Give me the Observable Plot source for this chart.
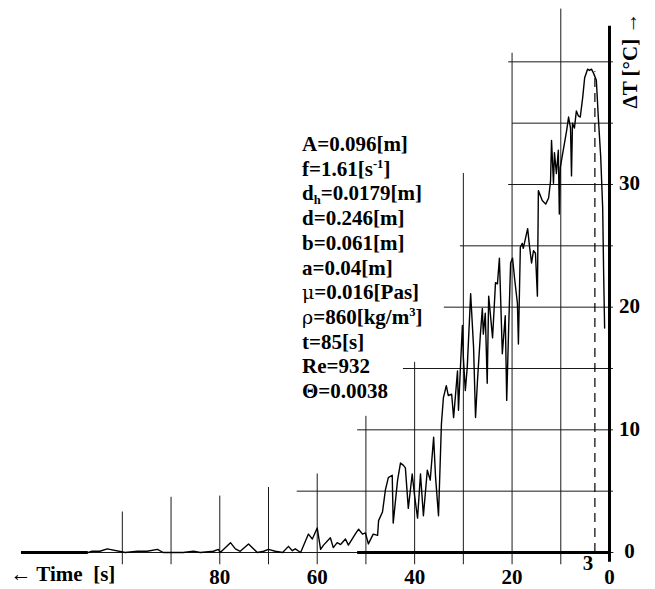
<!DOCTYPE html>
<html>
<head>
<meta charset="utf-8">
<script src="https://cdn.jsdelivr.net/npm/d3@7"></script>
<script src="https://cdn.jsdelivr.net/npm/@observablehq/plot@0.6"></script>
<style>
  html, body { margin: 0; padding: 0; background: #fff; }
  #wrap { position: relative; width: 655px; height: 589px; }
  #params {
    position: absolute; left: 302px; top: 132px;
    font-family: "Liberation Serif", "DejaVu Serif", serif;
    font-weight: bold; font-size: 21px; line-height: 24.7px; color: #000;
    white-space: nowrap;
  }
  #params sup, #params sub { font-size: 0.6em; line-height: 0; position: relative; vertical-align: baseline; }
  #params sup { top: -0.6em; }
  #params sub { top: 0.25em; }
  #params .sym { font-weight: normal; font-family: "DejaVu Serif", serif; font-size: 19px; }
</style>
</head>
<body>
<div id="wrap"></div>
<script>
// time before end of experiment [s] and temperature rise [°C]
const timeS = [120.7,107.0,106.2,104.6,103.1,99.4,96.9,94.9,92.8,91.6,
  89.7,87.5,85.4,84.0,81.3,80.3,79.9,77.8,76.8,75.8,
  74.1,72.3,71.0,70.0,68.6,67.1,65.9,65.1,64.5,63.4,
  61.8,61.0,60.0,59.3,58.7,57.3,56.7,55.9,55.2,54.2,
  53.6,52.2,51.5,50.7,50.1,49.5,48.5,47.6,47.4,46.6,
  46.0,45.4,44.6,44.4,43.5,42.9,42.3,41.9,41.3,40.5,
  40.0,39.4,38.8,38.2,37.4,36.8,36.1,35.7,35.1,34.5,
  34.1,33.5,33.1,32.4,32.0,31.2,31.0,30.2,30.0,29.6,
  29.2,28.5,27.9,27.5,27.1,26.5,26.1,25.9,25.5,25.1,
  24.8,24.0,23.4,23.0,22.6,22.0,21.4,21.1,20.7,20.3,
  19.9,19.5,18.9,18.7,18.3,17.9,17.7,16.8,16.4,16.0,
  15.6,15.2,14.8,14.6,13.8,13.1,12.5,12.1,11.9,11.5,
  11.3,10.9,10.5,10.3,10.1,9.4,8.8,8.4,8.0,7.8,
  7.6,7.2,6.8,6.4,6.0,5.5,5.1,4.5,4.1,3.7,
  3.3,2.7,2.3,1.8,1.4,1.2,1.0];
const deltaT = [0,0,0.1,0.1,0.3,0,0.1,0.1,0.25,0,
  0,0,0.1,0,0.1,0.25,0,0.8,0.3,0.1,
  0.7,0,0.1,0.25,0.1,0,0.5,0.15,0.3,0,
  1.5,1.1,2.0,0.25,0.6,1.2,0.4,0.8,0.65,1.1,
  0.6,1.5,1.9,1.5,1.6,0.7,1.5,1.4,2.6,3.3,
  5.1,6.1,6.3,2.4,5.9,7.3,7.1,6.9,3.6,6.4,
  4.6,2.8,6.4,3.0,6.7,5.9,9.4,6.1,3.0,10.5,
  12.6,13.6,12.8,12.9,11.0,14.8,11.6,18.5,15.9,13.2,
  15.1,21.1,16.7,11.0,14.0,17.8,19.9,17.8,19.5,13.8,
  20.9,17.5,22.0,21.9,24.0,16.2,19.3,12.4,18.3,23.6,
  24.0,22.4,20.3,17.0,24.9,25.2,24.8,26.4,24.9,23.6,
  24.6,24.4,20.9,29.5,28.7,28.4,28.9,30.3,33.6,30.1,
  32.6,30.9,32.8,27.6,31.4,33.0,34.4,35.5,34.6,30.7,
  35.0,34.6,36.0,35.6,35.5,37.1,38.7,39.4,39.3,39.4,
  39.1,38.5,35.5,32.2,28.1,22.7,18.3];

// staircase grid
const gridTimes = [100,90,80,70,60,50,40,30,20,10];
const gridTimeTops = [3.3,4.5,4.6,5.3,6.4,11.1,15.5,30.9,40.7,44.3];
const gridLevels = [5,10,15,20,25,30,35,40];
const gridLevelStarts = [64.1,51.7,42.3,33.9,30.6,20.7,19.9,20.7];

const xTicks = [80,60,40,20,0];
const yTicks = [0,10,20,30];
const markerTime = [3];
const markerTop = 39.2;
const timeDomain = [120.7, 0];
const tempDomain = [0, 45];
const axisTop = 42.9;

const xLabel = "\u2190 Time\u00a0\u00a0[s]";
const yLabel = "\u0394T [\u00b0C] \u2192";

const paramLines = [
  "A=0.096[m]",
  "f=1.61[s<sup>-1</sup>]",
  "d<sub>h</sub>=0.0179[m]",
  "d=0.246[m]",
  "b=0.061[m]",
  "a=0.04[m]",
  "<span class='sym'>\u03bc</span>=0.016[Pas]",
  "<span class='sym'>\u03c1</span>=860[kg/m<sup>3</sup>]",
  "t=85[s]",
  "Re=932",
  "\u0398=0.0038"
];

const data = timeS.map((t, i) => ({t, v: deltaT[i]}));
const ink = "#1a1a1a";

const chart = Plot.plot({
  width: 655, height: 589,
  marginLeft: 21, marginRight: 46, marginTop: 0, marginBottom: 37,
  x: {domain: timeDomain, axis: null},
  y: {domain: tempDomain, axis: null},
  style: {fontFamily: "'Liberation Serif', 'DejaVu Serif', serif", fontWeight: "bold", fontSize: "21px", background: "white", overflow: "visible", color: "#000"},
  marks: [
    Plot.ruleX(gridTimes, {x: d => d, y1: -1, y2: (d, i) => gridTimeTops[i], stroke: ink, strokeWidth: 1}),
    Plot.ruleY(gridLevels, {y: d => d, x1: (d, i) => gridLevelStarts[i], x2: -0.8, stroke: ink, strokeWidth: 1}),
    Plot.ruleY([0], {x1: timeDomain[0], x2: -0.9, stroke: ink, strokeWidth: 1}),
    Plot.ruleY([0], {x1: timeDomain[0], x2: 107, stroke: "#000", strokeWidth: 3}),
    Plot.ruleY([0], {x1: 51.7, x2: 0, stroke: "#000", strokeWidth: 3}),
    Plot.ruleX([0], {y1: -0.8, y2: axisTop, stroke: "#000", strokeWidth: 3}),
    Plot.ruleX(markerTime, {x: d => d, y1: 0, y2: markerTop, stroke: "#000", strokeWidth: 1.2, strokeDasharray: "9,6"}),
    Plot.line(data, {x: "t", y: "v", stroke: "#000", strokeWidth: 1.4, strokeLinejoin: "round"}),
    Plot.text(xTicks, {x: d => d, text: d => String(d), frameAnchor: "bottom", dy: 25, textAnchor: "middle", lineAnchor: "middle"}),
    Plot.text(markerTime, {x: d => d, text: d => String(d), frameAnchor: "bottom", dy: 11, dx: -7, textAnchor: "middle", lineAnchor: "middle"}),
    Plot.text(yTicks, {y: d => d, text: d => String(d), frameAnchor: "right", dx: 20, dy: -1, textAnchor: "middle", lineAnchor: "middle"}),
    Plot.text([xLabel], {text: d => d, frameAnchor: "bottom-left", dx: -11, dy: 22, textAnchor: "start", lineAnchor: "middle"}),
    Plot.text([yLabel], {text: d => d, frameAnchor: "top-right", dx: 21, dy: 60, rotate: -90, textAnchor: "middle", lineAnchor: "middle"})
  ]
});

const wrap = document.getElementById("wrap");
wrap.appendChild(chart);
const params = document.createElement("div");
params.id = "params";
params.innerHTML = paramLines.map(l => `<div>${l}</div>`).join("");
wrap.appendChild(params);
</script>
</body>
</html>
